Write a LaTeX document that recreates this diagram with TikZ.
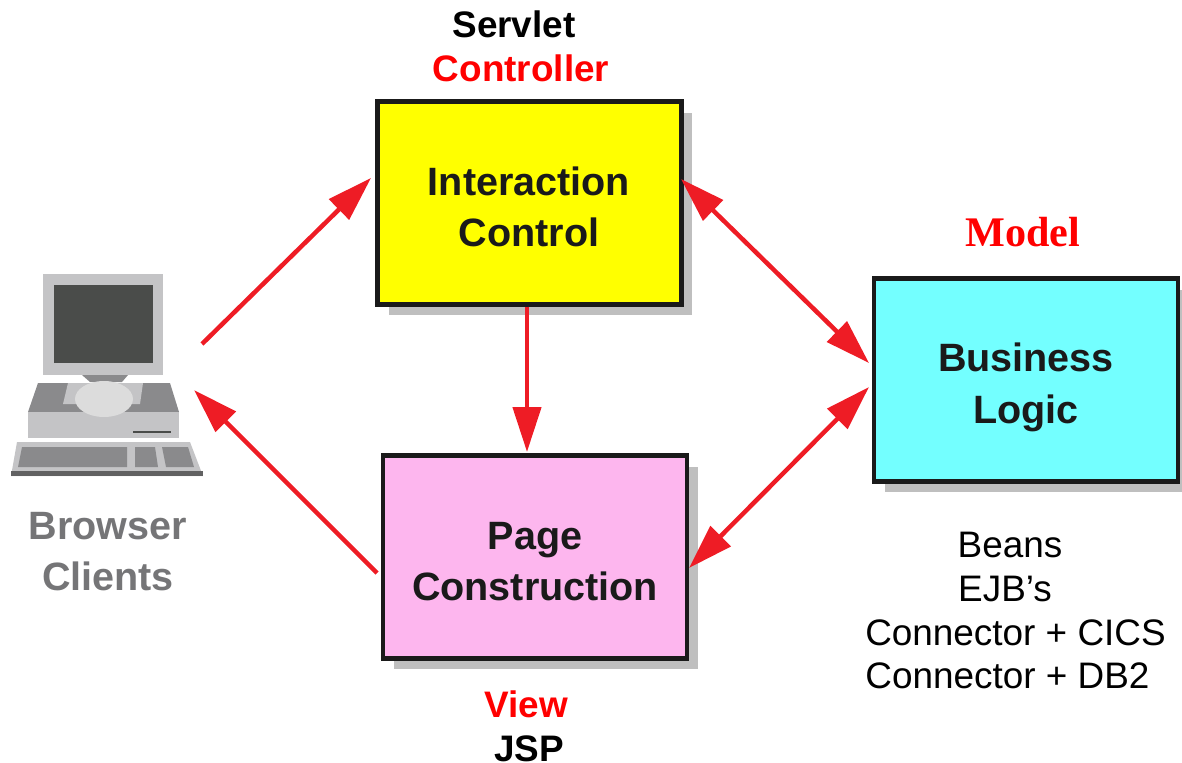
\documentclass[tikz,border=0pt]{standalone}
\usepackage{fontspec}
\setmainfont{Liberation Sans}
\newfontfamily\serifbold[Scale=1]{Liberation Serif}
\usetikzlibrary{arrows.meta,shadows}
\definecolor{boxyellow}{HTML}{FFFF00}
\definecolor{boxpink}{HTML}{FDB6EE}
\definecolor{boxcyan}{HTML}{73FFFF}
\definecolor{arrowred}{HTML}{EE1C25}
\definecolor{boxink}{HTML}{1A1A1A}
\definecolor{pcdark}{HTML}{4A4C4A}
\definecolor{pcmid}{HTML}{8A8A8C}
\definecolor{pclight}{HTML}{C4C4C6}
\definecolor{pcpale}{HTML}{DCDCDC}
\tikzset{
  box/.style={draw=boxink, line width=0.09cm, minimum width=6.08cm, minimum height=4.06cm,
    drop shadow={shadow xshift=0.22cm, shadow yshift=-0.22cm, fill=black!25, opacity=1}},
  boxtext/.style={anchor=base, font=\fontsize{22.5}{24}\selectfont\bfseries, text=boxink},
  headtext/.style={anchor=base, font=\fontsize{21}{24}\selectfont\bfseries},
  plaintext/.style={anchor=base, font=\fontsize{21}{24}\selectfont},
  flow/.style={arrowred, line width=0.09cm, -{Triangle[length=0.9cm,width=0.56cm]}},
  flowboth/.style={arrowred, line width=0.09cm, {Triangle[length=0.9cm,width=0.56cm]}-{Triangle[length=0.9cm,width=0.56cm]}},
}
\begin{document}
\begin{tikzpicture}[x=0.02cm, y=-0.02cm]
  \useasboundingbox (0,0) rectangle (1182,763);

  % boxes
  \node[box, fill=boxyellow] (control) at (529.5,203) {};
  \node[box, fill=boxpink] (page) at (535,557) {};
  \node[box, fill=boxcyan] (logic) at (1026,380) {};

  % arrow ends
  \coordinate (out1) at (202,344);
  \coordinate (in1) at (371,178);
  \coordinate (out2) at (377,573);
  \coordinate (in2) at (194,390);
  \coordinate (c1) at (681,179);
  \coordinate (l1) at (869,363);
  \coordinate (l2) at (869,387);
  \coordinate (p1) at (689,568);

  % computer
  \fill[pclight] (43,274) rectangle (163,375);
  \fill[pcdark] (54,285) rectangle (153,363);
  \fill[pcmid] (28,412) -- (38,383) -- (170,383) -- (179,412) -- cycle;
  \fill[pclight] (28,412) rectangle (179,438);
  \fill[pcmid] (82,375) -- (128,375) -- (122,382) -- (90,382) -- cycle;
  \fill[pclight] (63,404) -- (68,383) -- (143,383) -- (140,404) -- cycle;
  \fill[pcpale] (104,399) ellipse (29 and 18);
  \fill[pcdark] (133,431) rectangle (171,433);
  \fill[pclight] (17,442) -- (190,442) -- (203,476) -- (11,476) -- cycle;
  \fill[pcmid] (22,447) -- (127,447) -- (127,467) -- (18,467) -- cycle;
  \fill[pcmid] (135,447) -- (155,447) -- (158,467) -- (135,467) -- cycle;
  \fill[pcmid] (162,447) -- (188,447) -- (194,467) -- (166,467) -- cycle;
  \fill[pcmid!70!black] (11,471) rectangle (203,476);

  % arrows
  \draw[flow] (out1) -- (in1);
  \draw[flow] (out2) -- (in2);
  \draw[flow] (control.south -| 527,305) -- (527,452);
  \draw[flowboth] (c1) -- (l1);
  \draw[flowboth] (l2) -- (p1);

  % labels
  \node[headtext] (servlet) at (514,38) {Servlet};
  \node[headtext, text=red] (controller) at (521,82) {Controller};
  \node[boxtext] (interaction) at (529,196) {Interaction};
  \node[boxtext] (controltext) at (529,247) {Control};
  \node[boxtext] (pagetext) at (535,549) {Page};
  \node[boxtext] (construction) at (535,600) {Construction};
  \node[boxtext] (business) at (1026,371) {Business};
  \node[boxtext] (logictext) at (1026,423) {Logic};
  \node[anchor=base, font=\fontsize{24}{26}\serifbold\bfseries, text=red] (model) at (1023,247) {Model};
  \node[headtext, text=red] (view) at (526,717) {View};
  \node[headtext] (jsp) at (529,761) {JSP};
  \node[boxtext, text=pcmid!85!black] (browser) at (108,539) {Browser};
  \node[boxtext, text=pcmid!85!black] (clients) at (108,590) {Clients};
  \node[plaintext] (beans) at (1010,557) {Beans};
  \node[plaintext] (ejb) at (1005,601) {EJB’s};
  \node[plaintext] (cics) at (1015.5,645) {Connector + CICS};
  \node[plaintext] (db2) at (1007.5,688) {Connector + DB2};
\end{tikzpicture}
\end{document}
